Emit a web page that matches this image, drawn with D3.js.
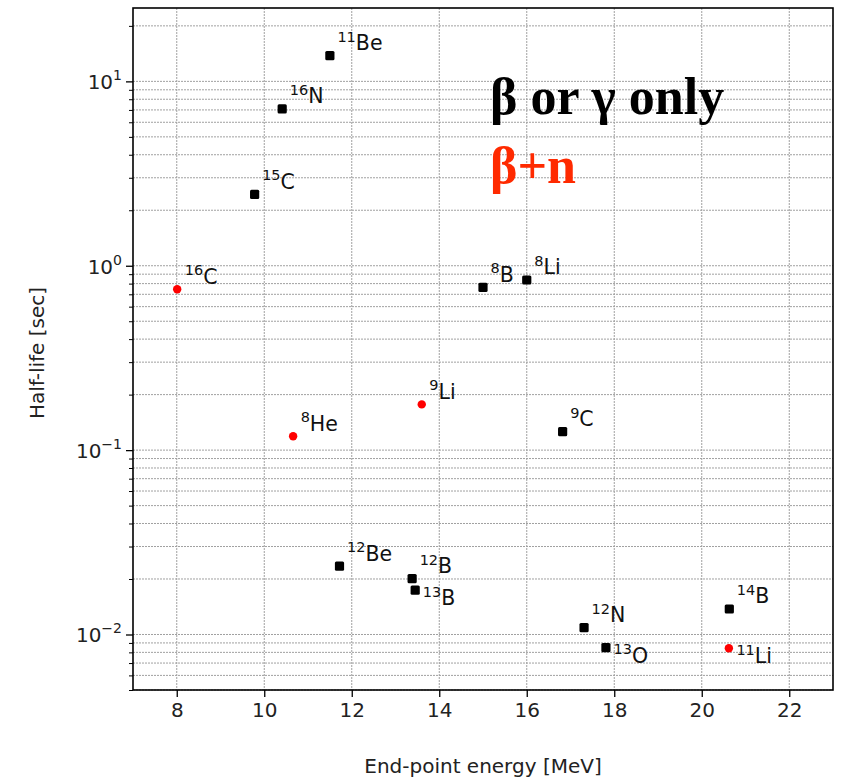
<!DOCTYPE html>
<html>
<head>
<meta charset="utf-8">
<script src="https://cdn.jsdelivr.net/npm/d3@7"></script>
<style>
  html, body { margin: 0; padding: 0; background: #fff; }
  svg { display: block; }
</style>
</head>
<body>
<svg id="chart" width="841" height="778"></svg>
<script>
// ---- data ----
const massNumbers = ["11", "16", "15", "16", "8", "8", "9", "8", "9", "12", "12", "13", "12", "13", "14", "11"];
const elements    = ["Be", "N", "C", "C", "B", "Li", "Li", "He", "C", "Be", "B", "B", "N", "O", "B", "Li"];
const endpointMeV = [11.5, 10.41, 9.78, 8.01, 15.0, 16.0, 13.6, 10.66, 16.82, 11.72, 13.38, 13.45, 17.31, 17.81, 20.63, 20.62];
const halfLifeSec = [13.8, 7.1, 2.44, 0.745, 0.764, 0.837, 0.177, 0.119, 0.126, 0.0235, 0.0201, 0.0174, 0.0109, 0.00848, 0.01375, 0.00842];
const decayMode   = ["b", "b", "b", "bn", "b", "b", "bn", "bn", "b", "b", "b", "b", "b", "b", "b", "bn"];
const labelSide   = ["above", "above", "above", "above", "above", "above", "above", "above", "above", "above", "above", "below", "above", "below", "above", "below"];
const xTicks = [8, 10, 12, 14, 16, 18, 20, 22];
const yMajorTicks = [0.01, 0.1, 1, 10];
const yExponents = ["−2", "−1", "0", "1"];
const legendTexts = ["β or γ only", "β+n"];

// ---- layout ----
const svg = d3.select("#chart");
const L = 133, R = 833, T = 8, B = 690;
const x = d3.scaleLinear().domain([7, 23]).range([L, R]);
const y = d3.scaleLog().domain([0.005, 25]).range([B, T]);

// minor ticks for log axis
const yAllTicks = [];
for (let e = -3; e <= 1; e++) {
  for (let m = 1; m <= 9; m++) {
    const v = m * Math.pow(10, e);
    if (v >= 0.005 - 1e-12 && v <= 25) yAllTicks.push(+v.toPrecision(3));
  }
}
const yMinorTicks = yAllTicks.filter(v => !yMajorTicks.some(t => Math.abs(t - v) / v < 1e-6));

// ---- grid ----
const grid = svg.append("g");
grid.selectAll("line.hg").data(yAllTicks).enter().append("line")
  .attr("x1", L).attr("x2", R)
  .attr("y1", d => y(d)).attr("y2", d => y(d))
  .attr("stroke", "#a0a0a0").attr("stroke-width", 1)
  .attr("stroke-dasharray", "2,1");
grid.selectAll("line.vg").data(xTicks).enter().append("line")
  .attr("x1", d => x(d)).attr("x2", d => x(d))
  .attr("y1", T).attr("y2", B)
  .attr("stroke", "#a0a0a0").attr("stroke-width", 1)
  .attr("stroke-dasharray", "2,1");

// ---- axes ----
const xAxis = d3.axisBottom(x).tickValues(xTicks).tickSize(7).tickPadding(6).tickFormat(d3.format("d"));
const gx = svg.append("g").attr("transform", `translate(0,${B})`).call(xAxis);
gx.select(".domain").remove();
gx.selectAll(".tick line").attr("stroke", "#000").attr("stroke-width", 1.3);
gx.selectAll(".tick text").attr("font-family", "DejaVu Sans, sans-serif").attr("font-size", 20).attr("fill", "#222");

const yAxisMajor = d3.axisLeft(y).tickValues(yMajorTicks).tickSize(7).tickFormat("");
const gy = svg.append("g").attr("transform", `translate(${L},0)`).call(yAxisMajor);
gy.select(".domain").remove();
gy.selectAll(".tick line").attr("stroke", "#000").attr("stroke-width", 1.3);

const yAxisMinor = d3.axisLeft(y).tickValues(yMinorTicks).tickSize(4).tickFormat("");
const gym = svg.append("g").attr("transform", `translate(${L},0)`).call(yAxisMinor);
gym.select(".domain").remove();
gym.selectAll(".tick line").attr("stroke", "#000").attr("stroke-width", 1);

// y tick labels as 10^n
const yl = svg.append("g");
yMajorTicks.forEach((v, i) => {
  const t = yl.append("text")
    .attr("x", L - 11).attr("y", y(v) + 8)
    .attr("text-anchor", "end")
    .attr("font-family", "DejaVu Sans, sans-serif")
    .attr("fill", "#222");
  t.append("tspan").attr("font-size", 20).text("10");
  t.append("tspan").attr("font-size", 14).attr("dy", -9).text(yExponents[i]);
});

// spines
svg.append("rect").attr("x", L).attr("y", T).attr("width", R - L).attr("height", B - T)
  .attr("fill", "none").attr("stroke", "#000").attr("stroke-width", 1.6);

// axis titles
svg.append("text").attr("x", (L + R) / 2).attr("y", 773)
  .attr("text-anchor", "middle").attr("font-family", "DejaVu Sans, sans-serif")
  .attr("font-size", 20).attr("fill", "#222").text("End-point energy [MeV]");
svg.append("text").attr("transform", `translate(43.5,${(T + B) / 2 + 4}) rotate(-90)`)
  .attr("text-anchor", "middle").attr("font-family", "DejaVu Sans, sans-serif")
  .attr("font-size", 20).attr("fill", "#222").text("Half-life [sec]");

// ---- points ----
const idx = d3.range(endpointMeV.length);
const pts = svg.append("g");
idx.forEach(i => {
  const cx = x(endpointMeV[i]), cy = y(halfLifeSec[i]);
  if (decayMode[i] === "bn") {
    pts.append("circle").attr("cx", cx).attr("cy", cy).attr("r", 4.2).attr("fill", "#ff0000");
  } else {
    pts.append("rect").attr("x", cx - 4.6).attr("y", cy - 4.6).attr("width", 9.2).attr("height", 9.2)
      .attr("rx", 1.5).attr("fill", "#000");
  }
});

// ---- labels ----
const labs = svg.append("g");
idx.forEach(i => {
  const cx = x(endpointMeV[i]), cy = y(halfLifeSec[i]);
  const by = labelSide[i] === "below" ? cy + 15 : cy - 5.5;
  const t = labs.append("text").attr("x", cx + 7.5).attr("y", by)
    .attr("font-family", "DejaVu Sans, sans-serif").attr("fill", "#111");
  t.append("tspan").attr("font-size", 14.5).attr("dy", -8.5).text(massNumbers[i]);
  t.append("tspan").attr("font-size", 20.5).attr("dy", 8.5).text(elements[i]);
});

// ---- legend text ----
svg.append("text").attr("x", 490).attr("y", 114)
  .attr("font-family", "Liberation Serif, Times New Roman, serif").attr("font-weight", "bold")
  .attr("font-size", 52).attr("fill", "#000").text(legendTexts[0]);
svg.append("text").attr("x", 490).attr("y", 183)
  .attr("font-family", "Liberation Serif, Times New Roman, serif").attr("font-weight", "bold")
  .attr("font-size", 52).attr("fill", "#ff2a00").text(legendTexts[1]);
</script>
</body>
</html>
